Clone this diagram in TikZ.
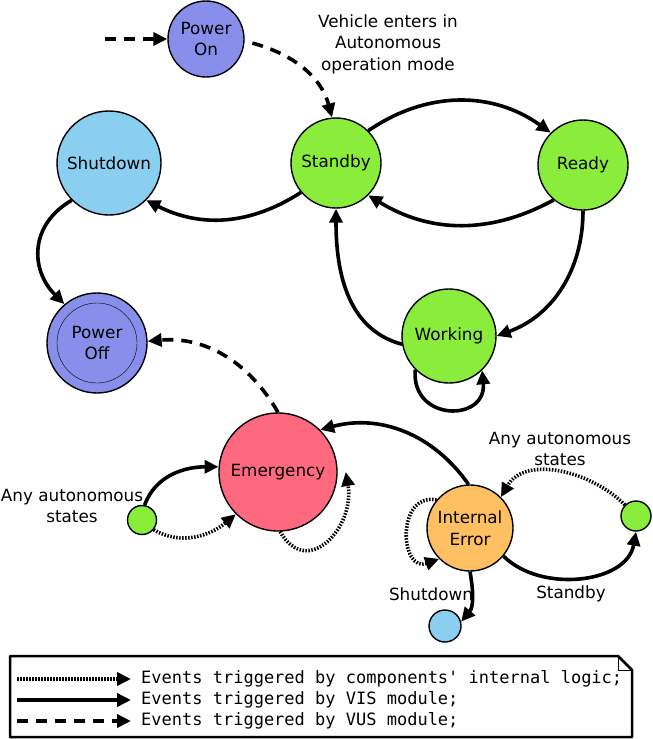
\documentclass[tikz,border=0pt]{standalone}
\usepackage{fontspec}
\setmainfont{DejaVu Sans}
\setmonofont{DejaVu Sans Mono}
\usetikzlibrary{arrows.meta}
\definecolor{uuuuff}{rgb}{0.53,0.56,0.92}
\definecolor{ttccff}{rgb}{0.54,0.81,0.94}
\definecolor{ttffqq}{rgb}{0.54,0.93,0.23}
\definecolor{ffttuu}{rgb}{1,0.41,0.5}
\definecolor{ffccqq}{rgb}{1,0.75,0.39}
\tikzset{
  st/.style={circle,draw=black,line width=1.4pt,inner sep=0pt,align=center},
  vis/.style={->,line width=3.6pt},
  vus/.style={->,line width=3.6pt,dash pattern=on 11pt off 8pt},
  cil/.style={->,line width=3.6pt,dash pattern=on 1.5pt off 1.5pt},
  lbl/.style={align=center,inner sep=0pt}
}

\begin{document}
\begin{tikzpicture}[line join=round,>={Triangle[length=14pt,width=13pt]},
  x=1pt,y=1pt,font=\fontsize{16.8}{21.5}\selectfont]
  \useasboundingbox (0,0) rectangle (653,-739);
  % states
  \node[st,fill=uuuuff,minimum size=76] (pon) at (206,-39) {Power\\On};
  \node[st,fill=ttccff,minimum size=104] (sht) at (109,-163) {Shutdown};
  \node[st,fill=ttffqq,minimum size=90] (stb) at (336,-163) {Standby};
  \node[st,fill=ttffqq,minimum size=90] (rdy) at (583,-165) {Ready};
  \node[st,fill=ttffqq,minimum size=94] (wrk) at (449,-336) {Working};
  \node[st,fill=uuuuff,minimum size=100] (pof) at (97,-343) {Power\\Off};
  \draw[line width=0.4pt] (pof) circle (40);
  \node[st,fill=ffttuu,minimum size=118] (emg) at (278,-472) {Emergency};
  \node[st,fill=ffccqq,minimum size=86] (ie) at (470,-528) {Internal\\Error};
  \node[st,fill=ttffqq,minimum size=29] (gl) at (142,-520) {};
  \node[st,fill=ttffqq,minimum size=30] (gr) at (636,-516) {};
  \node[st,fill=ttccff,minimum size=32] (bl) at (445,-626) {};
  % labels
  \node[lbl] (lvm) at (388,-44) {Vehicle enters in\\Autonomous\\operation mode};
  \node[lbl] (lanyl) at (72,-506) {Any autonomous\\states};
  \node[lbl] (lanyr) at (560,-449) {Any autonomous\\states};
  \node[lbl] (lsht) at (431,-594) {Shutdown};
  \node[lbl] (lstb) at (571,-594) {Standby};
  % transitions
  \coordinate (init) at (105,-39);
  \draw[vus] (init) -- (pon);
  \draw[vus,shorten <=8pt] (pon.-3) to[out=-15,in=105] (stb.95);
  \draw[vis] (stb.45) to[bend left=35] (rdy.135);
  \draw[vis] (rdy.-130) to[bend left=30] (stb.-45);
  \draw[vis] (rdy.-90) to[out=-90,in=20] (wrk.east);
  \draw[vis] (wrk.-170) to[out=165,in=-90] (stb.-90);
  \draw[vis] (wrk.-135) to[out=-95,in=-85,looseness=2] (wrk.-46);
  \draw[vis] (stb.-140) to[bend left=30] (sht.-45);
  \draw[vis] (sht.-135) to[out=-150,in=135,looseness=1.2] (pof.130);
  \draw[vus] (emg.90) to[out=120,in=5] (pof.2);
  \draw[vis] (ie.92) to[out=125,in=15] (emg.45);
  \draw[vis] (gl.80) to[out=70,in=180] (emg.175);
  \draw[cil] (gl.-40) to[out=-30,in=-140] (emg.-135);
  \draw[cil] (emg.-88) to[out=-60,in=-80,looseness=1.6] ([xshift=8pt]emg.east);
  \draw[cil] (ie.140) to[out=170,in=-160,looseness=1.8] (ie.-135);
  \draw[cil] (gr.135) to[out=135,in=60] (ie.45);
  \draw[vis] (ie.-40) to[out=-45,in=-100] (gr.-90);
  \draw[vis] (ie.-90) to[out=-80,in=50] (bl.15);
  % legend
  \draw[line width=2.5pt] (10,-656) -- (618,-656) -- (632,-670) -- (632,-737)
    -- (10,-737) -- cycle;
  \draw[line width=0.8pt] (618,-656) -- (618,-670) -- (632,-670);
  \foreach \sty/\yy/\txt in {cil/679/components' internal logic,
    vis/700/VIS module, vus/721/VUS module} {
    \coordinate (la\yy) at (17,-\yy);
    \coordinate (lb\yy) at (131,-\yy);
    \draw[\sty] (la\yy) -- (lb\yy);
    \node[anchor=west,inner sep=0pt,text height=12pt,text depth=3pt,
      font=\fontsize{17}{20}\ttfamily] (lt\yy) at (141,-\yy)
      {Events triggered by \txt;};
  }
\end{tikzpicture}
\end{document}
